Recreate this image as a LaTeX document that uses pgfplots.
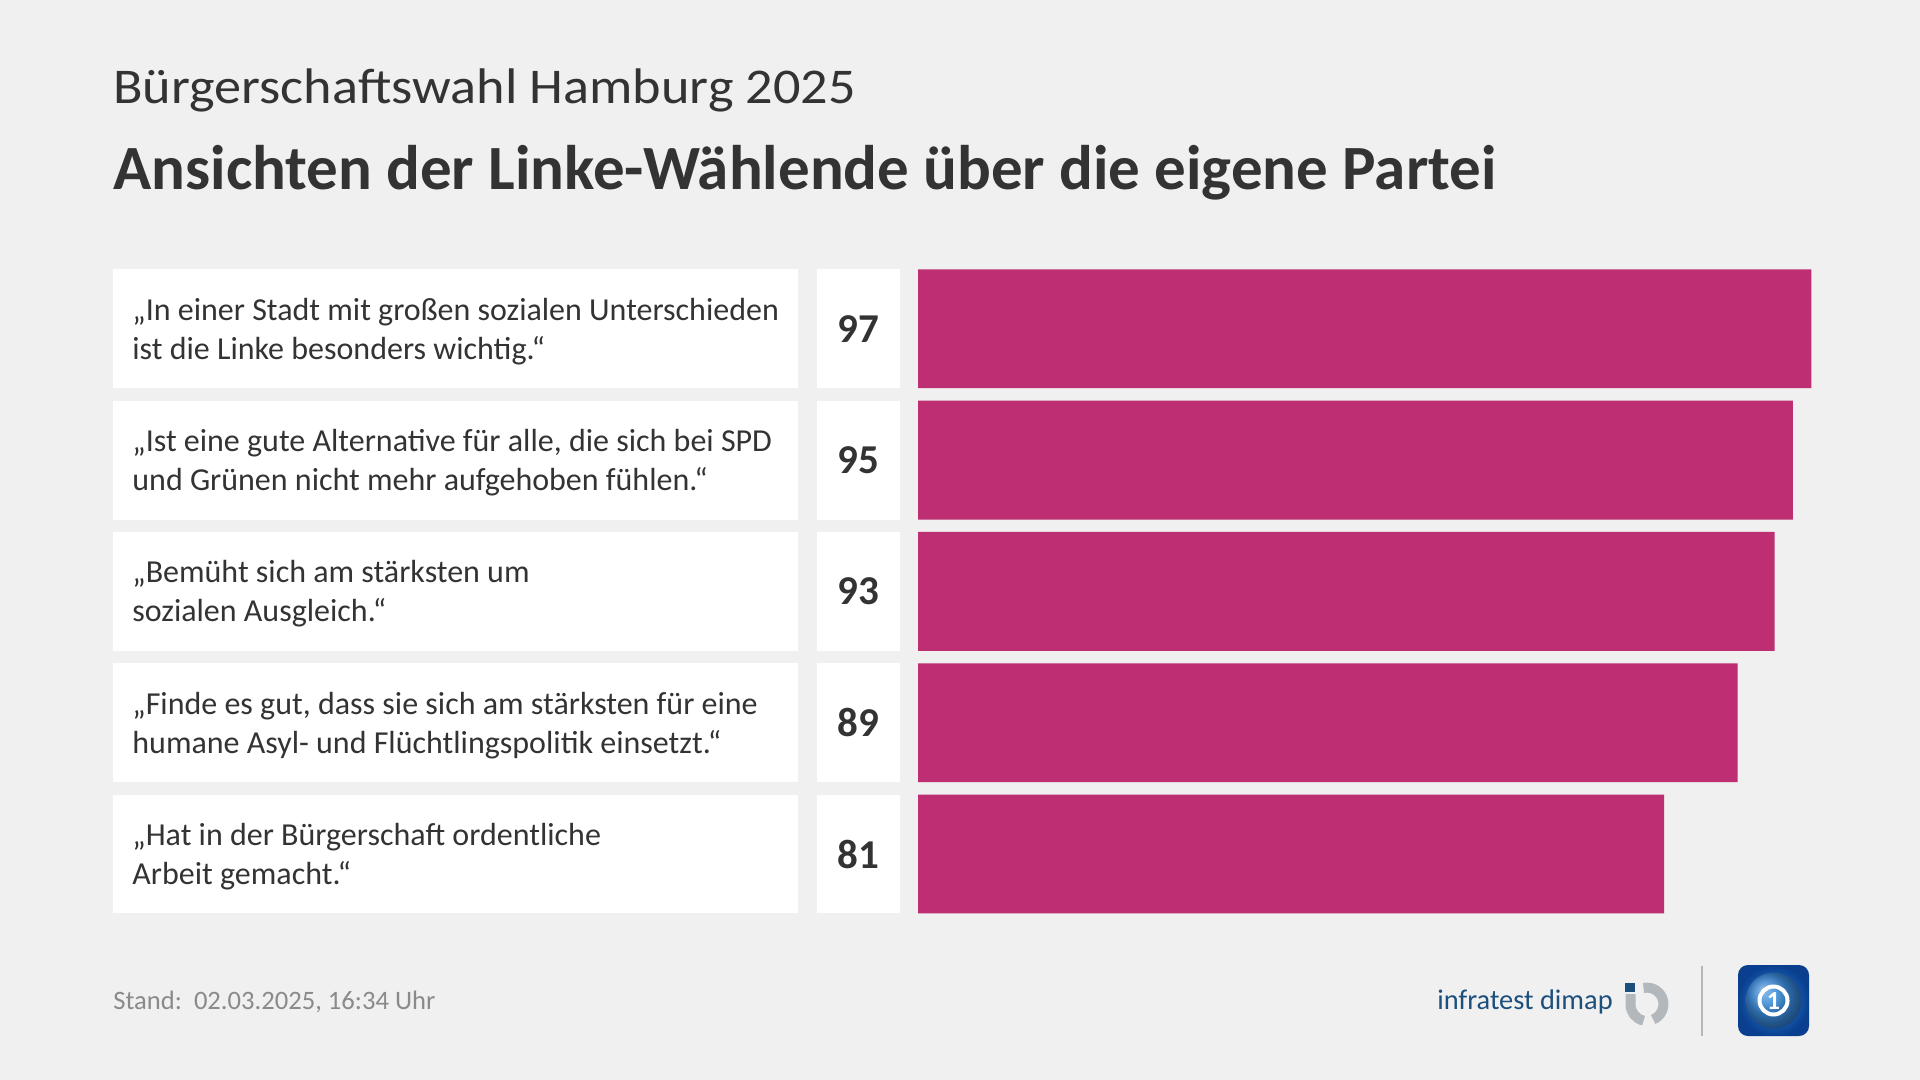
\documentclass[border=0pt]{standalone}
\usepackage{pgfplots}
\pgfplotsset{compat=1.18}
\usepackage{fontspec}
\setmainfont{Carlito}
\definecolor{bg}{HTML}{F0F0F0}
\definecolor{txt}{HTML}{333333}
\definecolor{barc}{HTML}{BE2E72}
\definecolor{foot}{HTML}{8A8A8A}
\definecolor{idblue}{HTML}{1D4F7C}
\definecolor{idgray}{HTML}{B3B8BC}
\definecolor{tsdark}{HTML}{0A3F8F}
\definecolor{tslight}{HTML}{2C8BE0}
\pgfplotstableread{
y v
0 97
1 95
2 93
3 89
4 81
}\datatable
\begin{document}
\begin{tikzpicture}[x=0.5pt,y=-0.5pt]
% background
\fill[bg] (0,0) rectangle (1920,1080);
% titles
\node[anchor=base west,inner sep=0,text=txt,font=\fontsize{25}{30}\selectfont] at (113,104) {\scalebox{1.085}[1]{Bürgerschaftswahl Hamburg 2025}};
\node[anchor=base west,inner sep=0,text=txt,font=\fontsize{31.5}{36}\selectfont\bfseries] at (113,190) {Ansichten der Linke-Wählende über die eigene Partei};
% row boxes
\foreach \i in {0,...,4}{
  \pgfmathsetmacro{\t}{269.4+131.3*\i}
  \pgfmathsetmacro{\b}{\t+118.8}
  \fill[white] (113,\t) rectangle (798,\b);
  \fill[white] (817,\t) rectangle (900,\b);
}
% labels
\foreach \i/\lab/\val in {0/{„In einer Stadt mit großen sozialen Unterschieden\\ist die Linke besonders wichtig.“}/97,
  1/{„Ist eine gute Alternative für alle, die sich bei SPD\\und Grünen nicht mehr aufgehoben fühlen.“}/95,
  2/{„Bemüht sich am stärksten um\\sozialen Ausgleich.“}/93,
  3/{„Finde es gut, dass sie sich am stärksten für eine\\humane Asyl- und Flüchtlingspolitik einsetzt.“}/89,
  4/{„Hat in der Bürgerschaft ordentliche\\Arbeit gemacht.“}/81}{
  \pgfmathsetmacro{\c}{269.4+131.3*\i+59.4}
  \node[anchor=west,inner sep=0,align=left,text=txt,font=\fontsize{16}{19.5}\selectfont] at (132,\c+2.5) {\lab};
  \node[anchor=center,inner sep=0,text=txt,font=\fontsize{20.5}{22}\selectfont\bfseries] at (858.5,\c) {\val};
}
% bars
\begin{axis}[
  at={(459pt,-134.7pt)}, anchor=north west,
  scale only axis, width=460.5pt, height=322pt,
  xmin=0, xmax=100, ymin=-0.4524, ymax=4.4524, y dir=reverse,
  hide axis, clip=false,
]
\addplot[xbar, bar width=0.905, fill=barc, draw=none, bar shift=0pt] table[x=v,y=y] {\datatable};
\end{axis}
% footer
\node[anchor=base west,inner sep=0,text=foot,font=\fontsize{13.3}{15}\selectfont] at (113,1009) {Stand:\ \ 02.03.2025, 16:34 Uhr};
\node[anchor=base west,inner sep=0,text=idblue,font=\fontsize{14.2}{16}\selectfont] at (1437,1009) {infratest dimap};
% infratest icon
\fill[idblue] (1625,983) rectangle (1635,992);
\draw[idgray,line width=5pt] (1643.5,988) arc[start angle=102,end angle=-68,radius=8.25pt];
\draw[idgray,line width=5pt] (1630.5,994) -- (1630.5,1004.5) arc[start angle=180,end angle=258,radius=8.25pt];
% separator
\draw[idgray,line width=1.2pt] (1702,966) -- (1702,1036);
% tagesschau icon
\shade[inner color=tslight,outer color=tsdark,rounded corners=5pt] (1738,965) rectangle (1809,1036);
\shade[ball color=tslight!80!white,opacity=0.6] (1773.5,1000.5) circle[radius=14pt];
\draw[white,line width=2pt] (1773.5,1000.5) circle[radius=7pt];
\node[text=white,font=\fontsize{13}{13}\selectfont\bfseries,inner sep=0] at (1773.5,1001) {1};
\end{tikzpicture}
\end{document}
